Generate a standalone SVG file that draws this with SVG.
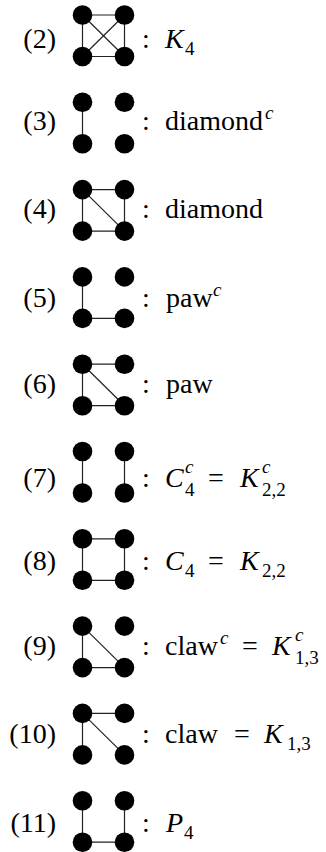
<svg xmlns="http://www.w3.org/2000/svg" width="326" height="852" viewBox="0 0 326 852">
<style>
.v{fill:#000}
.e{stroke:#222;stroke-width:1.2;fill:none}
.t{font-family:"Liberation Serif","DejaVu Serif","Times New Roman",serif;font-size:28px;fill:#000}
.n{text-anchor:end}
.i{font-style:italic}
.s{font-size:19px}
</style>
<rect width="326" height="852" fill="#fff"/>
<g id="edges">
<line class="e" x1="82.5" y1="15" x2="124.5" y2="15"/>
<line class="e" x1="82.5" y1="56.5" x2="124.5" y2="56.5"/>
<line class="e" x1="82.5" y1="15" x2="82.5" y2="56.5"/>
<line class="e" x1="124.5" y1="15" x2="124.5" y2="56.5"/>
<line class="e" x1="82.5" y1="15" x2="124.5" y2="56.5"/>
<line class="e" x1="124.5" y1="15" x2="82.5" y2="56.5"/>
<line class="e" x1="82.5" y1="102.3" x2="82.5" y2="143.8"/>
<line class="e" x1="82.5" y1="189.6" x2="124.5" y2="189.6"/>
<line class="e" x1="82.5" y1="189.6" x2="82.5" y2="231.1"/>
<line class="e" x1="124.5" y1="189.6" x2="124.5" y2="231.1"/>
<line class="e" x1="82.5" y1="231.1" x2="124.5" y2="231.1"/>
<line class="e" x1="82.5" y1="189.6" x2="124.5" y2="231.1"/>
<line class="e" x1="82.5" y1="276.9" x2="82.5" y2="318.4"/>
<line class="e" x1="82.5" y1="318.4" x2="124.5" y2="318.4"/>
<line class="e" x1="82.5" y1="364.2" x2="124.5" y2="364.2"/>
<line class="e" x1="82.5" y1="364.2" x2="82.5" y2="405.7"/>
<line class="e" x1="82.5" y1="405.7" x2="124.5" y2="405.7"/>
<line class="e" x1="82.5" y1="364.2" x2="124.5" y2="405.7"/>
<line class="e" x1="82.5" y1="451.5" x2="82.5" y2="493"/>
<line class="e" x1="124.5" y1="451.5" x2="124.5" y2="493"/>
<line class="e" x1="82.5" y1="538.8" x2="124.5" y2="538.8"/>
<line class="e" x1="82.5" y1="538.8" x2="82.5" y2="580.3"/>
<line class="e" x1="124.5" y1="538.8" x2="124.5" y2="580.3"/>
<line class="e" x1="82.5" y1="580.3" x2="124.5" y2="580.3"/>
<line class="e" x1="82.5" y1="626.1" x2="82.5" y2="667.6"/>
<line class="e" x1="82.5" y1="667.6" x2="124.5" y2="667.6"/>
<line class="e" x1="82.5" y1="626.1" x2="124.5" y2="667.6"/>
<line class="e" x1="82.5" y1="713.4" x2="124.5" y2="713.4"/>
<line class="e" x1="82.5" y1="713.4" x2="82.5" y2="754.9"/>
<line class="e" x1="82.5" y1="713.4" x2="124.5" y2="754.9"/>
<line class="e" x1="82.5" y1="800.7" x2="82.5" y2="842.2"/>
<line class="e" x1="82.5" y1="842.2" x2="124.5" y2="842.2"/>
<line class="e" x1="124.5" y1="800.7" x2="124.5" y2="842.2"/>
</g>
<g id="g2">
<circle class="v" cx="82.5" cy="15" r="9.8"/><circle class="v" cx="124.5" cy="15" r="9.8"/>
<circle class="v" cx="82.5" cy="56.5" r="9.8"/><circle class="v" cx="124.5" cy="56.5" r="9.8"/>
<text class="t n" x="56" y="48">(2)</text><text class="t" x="142" y="48">:</text>
<text class="t" y="48"><tspan class="i" x="165">K</tspan><tspan class="s" x="185" y="55">4</tspan></text>
</g>
<g id="g3">
<circle class="v" cx="82.5" cy="102.3" r="9.8"/><circle class="v" cx="124.5" cy="102.3" r="9.8"/>
<circle class="v" cx="82.5" cy="143.8" r="9.8"/><circle class="v" cx="124.5" cy="143.8" r="9.8"/>
<text class="t n" x="56" y="130">(3)</text><text class="t" x="142" y="130">:</text>
<text class="t" y="130"><tspan x="165">diamond</tspan><tspan class="s i" x="265" y="119">c</tspan></text>
</g>
<g id="g4">
<circle class="v" cx="82.5" cy="189.6" r="9.8"/><circle class="v" cx="124.5" cy="189.6" r="9.8"/>
<circle class="v" cx="82.5" cy="231.1" r="9.8"/><circle class="v" cx="124.5" cy="231.1" r="9.8"/>
<text class="t n" x="56" y="218">(4)</text><text class="t" x="142" y="218">:</text>
<text class="t" x="165" y="218">diamond</text>
</g>
<g id="g5">
<circle class="v" cx="82.5" cy="276.9" r="9.8"/><circle class="v" cx="124.5" cy="276.9" r="9.8"/>
<circle class="v" cx="82.5" cy="318.4" r="9.8"/><circle class="v" cx="124.5" cy="318.4" r="9.8"/>
<text class="t n" x="56" y="307">(5)</text><text class="t" x="142" y="307">:</text>
<text class="t" y="307"><tspan x="166">paw</tspan><tspan class="s i" x="213" y="296">c</tspan></text>
</g>
<g id="g6">
<circle class="v" cx="82.5" cy="364.2" r="9.8"/><circle class="v" cx="124.5" cy="364.2" r="9.8"/>
<circle class="v" cx="82.5" cy="405.7" r="9.8"/><circle class="v" cx="124.5" cy="405.7" r="9.8"/>
<text class="t n" x="56" y="393">(6)</text><text class="t" x="142" y="393">:</text>
<text class="t" x="166" y="393">paw</text>
</g>
<g id="g7">
<circle class="v" cx="82.5" cy="451.5" r="9.8"/><circle class="v" cx="124.5" cy="451.5" r="9.8"/>
<circle class="v" cx="82.5" cy="493" r="9.8"/><circle class="v" cx="124.5" cy="493" r="9.8"/>
<text class="t n" x="56" y="487">(7)</text><text class="t" x="142" y="487">:</text>
<text class="t" y="487"><tspan class="i" x="165">C</tspan><tspan class="s i" x="185" y="473">c</tspan><tspan class="s" x="185" y="496">4</tspan><tspan x="208" y="487">=</tspan><tspan class="i" x="240">K</tspan><tspan class="s i" x="262" y="473">c</tspan><tspan class="s" x="262" y="496">2,2</tspan></text>
</g>
<g id="g8">
<circle class="v" cx="82.5" cy="538.8" r="9.8"/><circle class="v" cx="124.5" cy="538.8" r="9.8"/>
<circle class="v" cx="82.5" cy="580.3" r="9.8"/><circle class="v" cx="124.5" cy="580.3" r="9.8"/>
<text class="t n" x="56" y="570">(8)</text><text class="t" x="142" y="570">:</text>
<text class="t" y="570"><tspan class="i" x="165">C</tspan><tspan class="s" x="185" y="577">4</tspan><tspan x="208" y="570">=</tspan><tspan class="i" x="240">K</tspan><tspan class="s" x="262" y="577">2,2</tspan></text>
</g>
<g id="g9">
<circle class="v" cx="82.5" cy="626.1" r="9.8"/><circle class="v" cx="124.5" cy="626.1" r="9.8"/>
<circle class="v" cx="82.5" cy="667.6" r="9.8"/><circle class="v" cx="124.5" cy="667.6" r="9.8"/>
<text class="t n" x="56" y="655">(9)</text><text class="t" x="142" y="655">:</text>
<text class="t" y="655"><tspan x="165">claw</tspan><tspan class="s i" x="220" y="644">c</tspan><tspan x="242" y="655">=</tspan><tspan class="i" x="272">K</tspan><tspan class="s i" x="295" y="641">c</tspan><tspan class="s" x="295" y="664">1,3</tspan></text>
</g>
<g id="g10">
<circle class="v" cx="82.5" cy="713.4" r="9.8"/><circle class="v" cx="124.5" cy="713.4" r="9.8"/>
<circle class="v" cx="82.5" cy="754.9" r="9.8"/><circle class="v" cx="124.5" cy="754.9" r="9.8"/>
<text class="t n" x="56" y="743">(10)</text><text class="t" x="142" y="743">:</text>
<text class="t" y="743"><tspan x="165">claw</tspan><tspan x="234">=</tspan><tspan class="i" x="264">K</tspan><tspan class="s" x="287" y="750">1,3</tspan></text>
</g>
<g id="g11">
<circle class="v" cx="82.5" cy="800.7" r="9.8"/><circle class="v" cx="124.5" cy="800.7" r="9.8"/>
<circle class="v" cx="82.5" cy="842.2" r="9.8"/><circle class="v" cx="124.5" cy="842.2" r="9.8"/>
<text class="t n" x="56" y="832">(11)</text><text class="t" x="142" y="832">:</text>
<text class="t" y="832"><tspan class="i" x="166">P</tspan><tspan class="s" x="184" y="839">4</tspan></text>
</g>
</svg>
